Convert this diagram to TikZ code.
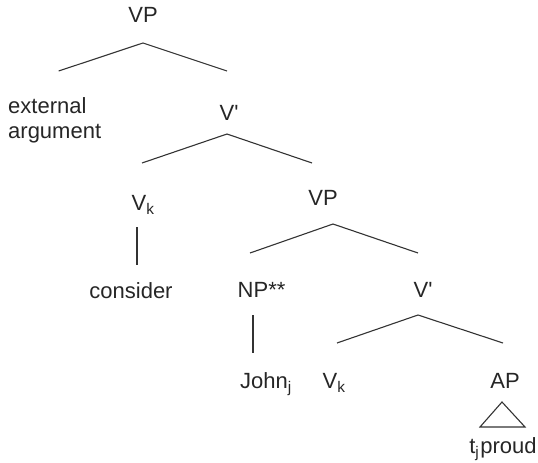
\documentclass[tikz,border=0pt]{standalone}
\usepackage{fontspec}
\setmainfont{Liberation Sans}
\usetikzlibrary{calc}
\tikzset{
    cat/.style={inner sep=0pt, anchor=base, text=black!85,
        font=\fontsize{22}{25}\selectfont},
    branch/.style={draw=black!80, line width=1.1pt}
}

\begin{document}
\begin{tikzpicture}[x=1pt, y=-1pt]
    \useasboundingbox (0,0) rectangle (538,463);
    % categories
    \node[cat] (VPa) at (143,22) {VP};
    \node[cat, anchor=north west, align=left] (Ext) at (8,97) {external\\argument};
    \node[cat] (Vbara) at (227,120) {V\rlap{\textquotesingle}};
    \node[cat] (Vka) at (139,210) {V\rlap{\textsubscript{k}}};
    \node[cat] (Cons) at (131,298) {consider};
    \node[cat] (VPb) at (323,205) {VP};
    \node[cat] (NP) at (253,297) {NP\rlap{**}};
    \node[cat] (Vbarb) at (421,297) {V\rlap{\textquotesingle}};
    \node[cat] (John) at (264,388) {John\rlap{\textsubscript{j}}};
    \node[cat] (Vkb) at (330,388) {V\rlap{\textsubscript{k}}};
    \node[cat] (AP) at (505,388) {AP};
    \node[cat] (Tp) at (503,453) {t\textsubscript{j}\hspace{1pt}proud};

    % branches
    \draw[branch] ($(Ext.north)+(4,-26)$) -- ($(VPa.base)+(0,21)$) -- ($(Vbara.base)+(0,-49)$);
    \draw[branch] ($(Vka.base)+(3,-47)$) -- ($(Vbara.base)+(0,14)$) -- ($(VPb.base)+(-11,-42)$);
    \draw[branch] ($(Vka.base)+(-2,17)$) -- ($(Vka.base |- Cons.base)+(-2,-33)$);
    \draw[branch] ($(NP.base)+(-3,-44)$) -- ($(VPb.base)+(10,19)$) -- ($(Vbarb.base)+(-3,-44)$);
    \draw[branch] ($(NP.base)+(0,18)$) -- ($(NP.base |- John.base)+(0,-35)$);
    \draw[branch] ($(Vkb.base)+(7,-45)$) -- ($(Vbarb.base)+(-3,18)$) -- ($(AP.base)+(-2,-45)$);
    \draw[branch] ($(AP.base)+(-3,14)$) -- ($(Tp.base)+(-23,-26)$) -- ($(Tp.base)+(22,-26)$) -- cycle;
\end{tikzpicture}
\end{document}
